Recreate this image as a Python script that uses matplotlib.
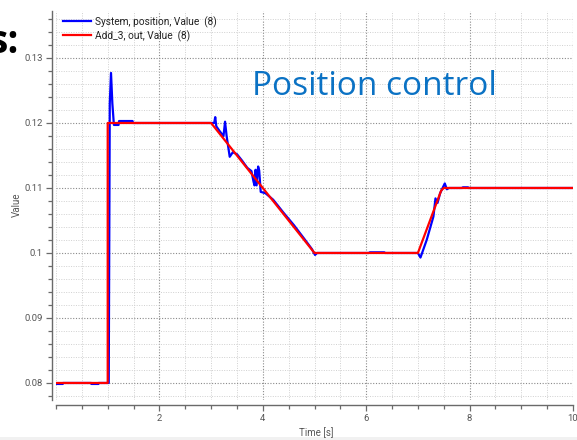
import matplotlib
matplotlib.use("Agg")
import matplotlib.pyplot as plt
from matplotlib.ticker import MultipleLocator, FixedLocator, FuncFormatter
from matplotlib.patches import Rectangle

# ---- data ----
red_t = [0.0, 1.0, 1.0, 3.0, 5.0, 7.0, 7.45, 7.5, 10.0]
red_v = [0.08, 0.08, 0.12, 0.12, 0.10, 0.10, 0.1096, 0.11, 0.11]

blue_t = [0.0, 0.13, 0.135, 0.68, 0.685, 0.82, 0.825, 1.0, 1.02, 1.04, 1.064, 1.09,
          1.12, 1.21, 1.22, 1.48, 1.49, 3.06, 3.08, 3.10, 3.17, 3.24, 3.27, 3.30,
          3.36, 3.42, 3.50, 3.60, 3.70, 3.78, 3.82, 3.84, 3.86, 3.88, 3.91, 3.93,
          3.96, 4.05, 4.20, 4.40, 4.60, 4.80, 4.95, 5.01, 5.05, 6.05, 6.07, 6.35,
          6.37, 7.0, 7.05, 7.17, 7.30, 7.34, 7.38, 7.43, 7.52, 7.56, 7.60, 7.85,
          7.87, 7.97, 7.98, 10.0]
blue_v = [0.07985, 0.07985, 0.08, 0.08, 0.07985, 0.07985, 0.08, 0.08, 0.08, 0.1230,
          0.1277, 0.1230, 0.1197, 0.1197, 0.1203, 0.1203, 0.1200, 0.1200, 0.1209,
          0.1195, 0.1187, 0.1180, 0.1202, 0.1180, 0.1148, 0.1155, 0.1152, 0.1142,
          0.1131, 0.1126, 0.1110, 0.1104, 0.1128, 0.1104, 0.1133, 0.1127, 0.1094,
          0.1092, 0.1082, 0.1062, 0.1043, 0.1022, 0.1006, 0.0997, 0.1000, 0.1000,
          0.1001, 0.1001, 0.1000, 0.1000, 0.0993, 0.1020, 0.1056, 0.1084, 0.1077,
          0.1092, 0.1107, 0.1098, 0.1100, 0.1100, 0.1101, 0.1101, 0.1100, 0.1100]

legend_labels = ["System, position, Value  (8)", "Add_3, out, Value  (8)"]
x_major = [2, 4, 6, 8, 10]
y_major = [0.08, 0.09, 0.10, 0.11, 0.12, 0.13]

W, H = 577, 440
fig = plt.figure(figsize=(W / 100, H / 100), dpi=100)
fig.patch.set_facecolor("white")

qfont = "Roboto"
axc = "#6a6a6a"
txtc = "#555555"

ax = fig.add_axes([56 / W, 40 / H, 517 / W, 389 / H])
ax.plot(blue_t, blue_v, color="#0000ff", lw=1.6, label=legend_labels[0], zorder=3)
ax.plot(red_t, red_v, color="#ff0000", lw=1.6, label=legend_labels[1], zorder=4)

ax.set_xlim(0, 10)
ax.set_ylim(0.07738, 0.13723)

ax.xaxis.set_major_locator(FixedLocator(x_major))
ax.xaxis.set_minor_locator(MultipleLocator(0.5))
ax.yaxis.set_major_locator(FixedLocator(y_major))
ax.yaxis.set_minor_locator(MultipleLocator(0.002))
ax.xaxis.set_major_formatter(FuncFormatter(lambda v, p: "%g" % v))
ax.yaxis.set_major_formatter(FuncFormatter(lambda v, p: "%g" % round(v, 4)))

for s in ["top", "right"]:
    ax.spines[s].set_visible(False)
ax.spines["left"].set_position(("outward", 2.9))
ax.spines["bottom"].set_position(("outward", 3.6))
for s in ["left", "bottom"]:
    ax.spines[s].set_color(axc)
    ax.spines[s].set_linewidth(1.0)

ax.tick_params(which="major", direction="out", length=4.3, width=0.9, color=axc,
               labelsize=6.8, labelcolor=txtc, pad=2.5)
ax.tick_params(which="minor", direction="out", length=2.9, width=0.9, color=axc)
for lab in ax.get_xticklabels() + ax.get_yticklabels():
    lab.set_fontfamily(qfont)

ax.grid(which="major", color="#8a8a8a", linestyle=(0, (1, 1.5)), linewidth=0.8)
ax.grid(which="minor", color="#d0d0d0", linestyle=(0, (1, 1.5)), linewidth=0.7)
ax.set_axisbelow(True)

leg = ax.legend(loc="upper left", bbox_to_anchor=(63 / W, 1 - 16 / H),
                bbox_transform=fig.transFigure, frameon=False,
                prop={"family": qfont, "size": 7.3}, handlelength=2.8,
                handletextpad=0.35, labelspacing=0.25, borderpad=0, borderaxespad=0)
for t in leg.get_texts():
    t.set_color("#222222")

fig.text(17 / W, 1 - 205 / H, "Value", rotation=90, ha="center", va="center",
         fontsize=7.0, color=txtc, family=qfont)
fig.text(316 / W, 1 - 433 / H, "Time [s]", ha="center", va="center",
         fontsize=7.0, color=txtc, family=qfont)

fig.text(252 / W, 1 - 95 / H, "Position control", ha="left", va="baseline",
         fontsize=24, color="#0b72c4", family="Open Sans")
# slide title fragment, cut at the left edge
fig.text(19 / W, 1 - 53 / H, "s:", ha="right", va="baseline",
         fontsize=28, color="black", fontweight="bold", family="Open Sans")

fig.patches.append(Rectangle((0, 0), 1, 3.5 / H, transform=fig.transFigure,
                             facecolor="#f1f1f1", edgecolor="none", zorder=0))

fig.savefig("out.png", dpi=100)
